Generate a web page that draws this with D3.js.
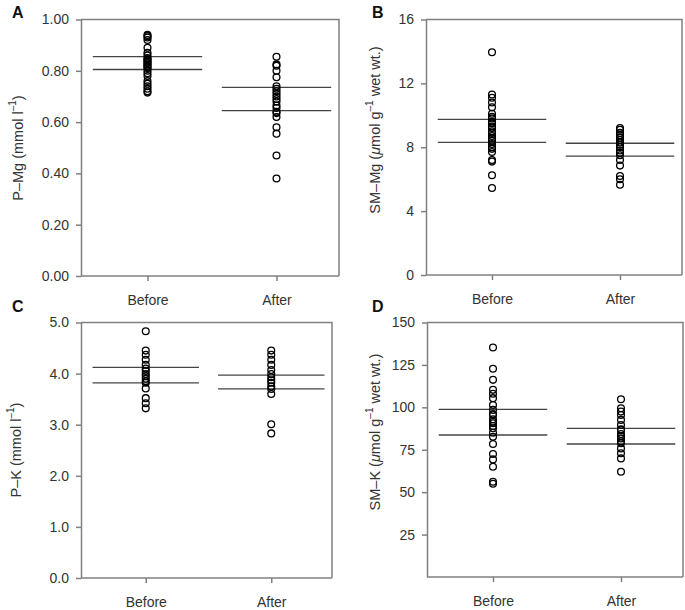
<!DOCTYPE html>
<html><head><meta charset="utf-8">
<script src="https://cdn.jsdelivr.net/npm/d3@7"></script>
<style>
body{margin:0;background:#fff;}
svg{display:block;font-family:"Liberation Sans",Arial,Helvetica,sans-serif;}
</style></head>
<body>
<svg id="chart" width="685" height="610"></svg>
<script>
const categories = ["Before", "After"];

const pMgBefore = [0.94,0.935,0.93,0.92,0.89,0.87,0.86,0.85,0.845,0.84,0.835,0.83,0.825,0.82,0.815,0.81,0.80,0.79,0.78,0.76,0.75,0.74,0.73,0.72,0.715];
const pMgAfter  = [0.855,0.825,0.82,0.80,0.775,0.74,0.73,0.72,0.71,0.70,0.69,0.68,0.665,0.655,0.64,0.635,0.62,0.58,0.555,0.47,0.38];
const pMgBeforeCI = [0.805, 0.855];
const pMgAfterCI  = [0.645, 0.735];
const pMgTicks = [0, 0.2, 0.4, 0.6, 0.8, 1.0];

const smMgBefore = [13.95,11.3,11.1,10.8,10.5,10.1,9.9,9.8,9.6,9.5,9.3,9.2,9.0,8.9,8.7,8.55,8.4,8.2,8.0,7.9,7.7,7.2,7.1,6.25,5.45];
const smMgAfter  = [9.2,9.1,8.9,8.75,8.6,8.45,8.3,8.15,8.0,7.8,7.65,7.5,7.2,6.85,6.2,6.0,5.65];
const smMgBeforeCI = [8.3, 9.75];
const smMgAfterCI  = [7.45, 8.25];
const smMgTicks = [0, 4, 8, 12, 16];

const pKBefore = [4.83,4.45,4.37,4.27,4.17,4.1,4.05,3.99,3.95,3.9,3.85,3.82,3.71,3.52,3.42,3.32];
const pKAfter  = [4.45,4.37,4.27,4.17,4.07,3.99,3.93,3.87,3.82,3.75,3.7,3.6,3.01,2.83];
const pKBeforeCI = [3.82, 4.12];
const pKAfterCI  = [3.70, 3.97];
const pKTicks = [0, 1, 2, 3, 4, 5];

const smKBefore = [135.3,122.7,116.2,110.3,108,105.4,101.4,98.5,96,95.5,93,91.5,90.6,89,87.7,85,82.7,78.4,72.5,69.3,65,56.1,55];
const smKAfter  = [104.8,99.5,97.5,95.5,92.6,89.6,87,86.6,84.3,83,81.7,80,78.8,75.8,72.9,69.9,62];
const smKBeforeCI = [83.7, 98.8];
const smKAfterCI  = [78.4, 87.6];
const smKTicks = [25, 50, 75, 100, 125, 150];

const svg = d3.select("#chart");
const axisColor = "#808080";
const textColor = "#333";

const panels = [
  {letter:"A", left:81, right:339, top:19.5, bottom:276, max:1.0, ticks:pMgTicks, fmt:d3.format(".2f"),
   before:pMgBefore, after:pMgAfter, ciB:pMgBeforeCI, ciA:pMgAfterCI,
   label:[{t:"P–Mg (mmol l"},{t:"–1",sup:true},{t:")"}], lx:18, ly:148, letX:12, letY:18},
  {letter:"B", left:426, right:682, top:19.5, bottom:275, max:16, ticks:smMgTicks, fmt:d3.format("d"),
   before:smMgBefore, after:smMgAfter, ciB:smMgBeforeCI, ciA:smMgAfterCI,
   label:[{t:"SM–Mg ("},{t:"μ",it:true},{t:"mol g"},{t:"–1",sup:true},{t:" wet wt.)"}], lx:375, ly:130, letX:372, letY:18},
  {letter:"C", left:81, right:332, top:322.5, bottom:578, max:5, ticks:pKTicks, fmt:d3.format(".1f"),
   before:pKBefore, after:pKAfter, ciB:pKBeforeCI, ciA:pKAfterCI,
   label:[{t:"P–K (mmol l"},{t:"–1",sup:true},{t:")"}], lx:16, ly:450, letX:12, letY:312},
  {letter:"D", left:427, right:683, top:322.5, bottom:577, max:150, ticks:smKTicks, fmt:d3.format("d"),
   before:smKBefore, after:smKAfter, ciB:smKBeforeCI, ciA:smKAfterCI,
   label:[{t:"SM–K ("},{t:"μ",it:true},{t:"mol g"},{t:"–1",sup:true},{t:" wet wt.)"}], lx:375, ly:432, letX:372, letY:312}
];

panels.forEach(p => {
  const g = svg.append("g");
  const w = p.right - p.left;
  const x = d3.scalePoint().domain(categories).range([p.left + 2, p.right + 2]).padding(0.5);
  const y = d3.scaleLinear().domain([0, p.max]).range([p.bottom, p.top]);

  // frame (top & right)
  g.append("path")
    .attr("d", `M${p.left},${p.top}H${p.right}V${p.bottom}`)
    .attr("fill","none").attr("stroke", axisColor).attr("stroke-width",1.5);

  // y axis
  const ya = g.append("g").attr("transform",`translate(${p.left},0)`)
    .call(d3.axisLeft(y).tickValues(p.ticks).tickFormat(p.fmt).tickSize(5).tickPadding(7).tickSizeOuter(0));
  ya.select(".domain").attr("stroke", axisColor).attr("stroke-width",1.5);
  ya.selectAll(".tick line").attr("stroke", axisColor).attr("stroke-width",1.5);
  ya.selectAll(".tick text").attr("fill", textColor).attr("font-size",14)
    .attr("font-family","Liberation Sans, Arial, sans-serif");

  // x axis
  const xa = g.append("g").attr("transform",`translate(0,${p.bottom})`)
    .call(d3.axisBottom(x).tickSize(5).tickPadding(14).tickSizeOuter(0));
  xa.select(".domain").attr("d", `M${p.left},0H${p.right}`).attr("stroke", axisColor).attr("stroke-width",1.5);
  xa.selectAll(".tick line").attr("stroke", axisColor).attr("stroke-width",1.5);
  xa.selectAll(".tick text").attr("fill", textColor).attr("font-size",14)
    .attr("font-family","Liberation Sans, Arial, sans-serif");

  // CI lines
  const half = w * 0.212;
  const lines = [];
  p.ciB.forEach(v => lines.push({c:"Before", v}));
  p.ciA.forEach(v => lines.push({c:"After", v}));
  g.selectAll("line.ci").data(lines).join("line").attr("class","ci")
    .attr("x1", d => x(d.c) - half).attr("x2", d => x(d.c) + half)
    .attr("y1", d => y(d.v)).attr("y2", d => y(d.v))
    .attr("stroke","#444").attr("stroke-width",1.3);

  // points
  const pts = p.before.map(v => ({c:"Before", v})).concat(p.after.map(v => ({c:"After", v})));
  g.selectAll("circle").data(pts).join("circle")
    .attr("cx", d => x(d.c)).attr("cy", d => y(d.v)).attr("r",3.4)
    .attr("fill","none").attr("stroke","#000").attr("stroke-width",1.3);

  // y label
  const t = g.append("text")
    .attr("transform", `translate(${p.lx},${p.ly}) rotate(-90)`)
    .attr("text-anchor","middle").attr("dominant-baseline","central")
    .attr("font-size",14.5).attr("fill", textColor);
  p.label.forEach(s => {
    const ts = t.append("tspan").text(s.t);
    if (s.sup) ts.attr("font-size",10).attr("baseline-shift","super");
    if (s.it) ts.attr("font-style","italic");
  });

  // panel letter
  g.append("text").attr("x", p.letX).attr("y", p.letY)
    .attr("font-size",16).attr("font-weight","bold").attr("fill","#111").text(p.letter);
});
</script>
</body></html>
